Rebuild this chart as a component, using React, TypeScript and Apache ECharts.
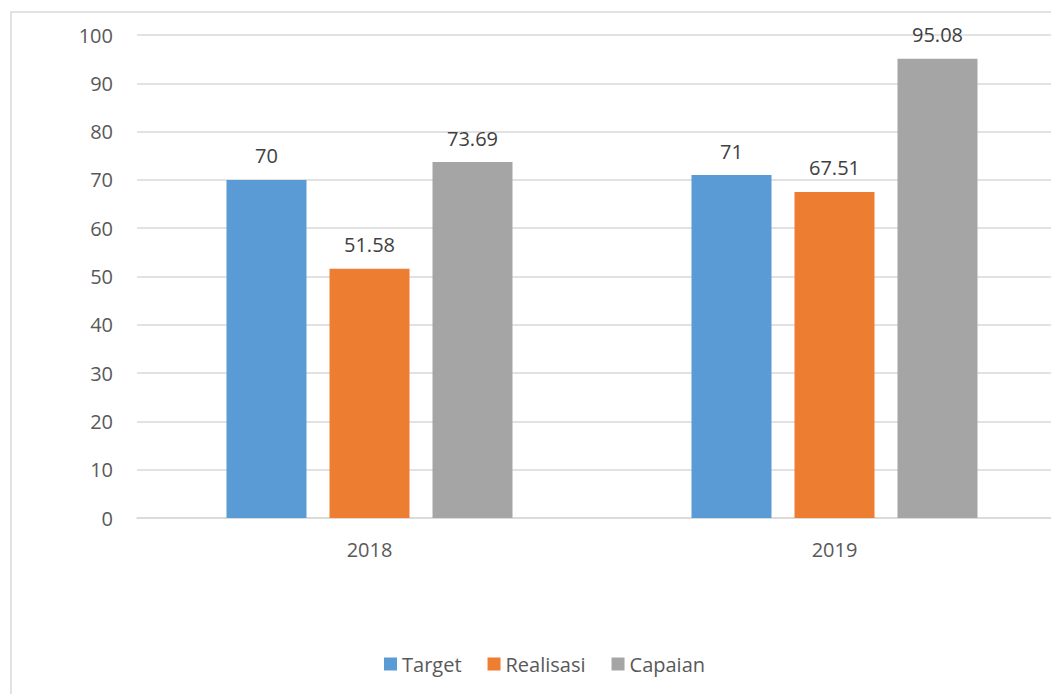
import React, { useEffect, useRef } from "react";
import * as echarts from "echarts";

const categories = ["2018", "2019"];
const targetValues = [70, 71];
const realisasiValues = [51.58, 67.51];
const capaianValues = [73.69, 95.08];
const seriesNames = ["Target", "Realisasi", "Capaian"];
const colors = ["#5B9BD5", "#ED7D31", "#A5A5A5"];

const FONT = "'Open Sans', 'Liberation Sans', Arial, sans-serif";

export default function App() {
  const ref = useRef<HTMLDivElement>(null);
  useEffect(() => {
    if (!ref.current) return;
    const chart = echarts.init(ref.current, null, { renderer: "svg" });
    const values = [targetValues, realisasiValues, capaianValues];
    const label = {
      show: true,
      position: "top" as const,
      distance: 14,
      color: "#404040",
      fontSize: 20,
      fontFamily: FONT,
    };
    chart.setOption({
      animation: false,
      backgroundColor: "#ffffff",
      graphic: [
        {
          type: "rect",
          shape: { x: 11, y: 12, width: 1100, height: 720 },
          style: { fill: "none", stroke: "#d9d9d9", lineWidth: 1.5 },
          silent: true,
        },
      ],
      grid: { left: 137, top: 35, width: 930, height: 483, containLabel: false },
      legend: {
        data: seriesNames,
        top: 649,
        left: 379,
        icon: "rect",
        itemWidth: 13,
        itemHeight: 13,
        itemGap: 26,
        textStyle: { color: "#595959", fontSize: 20, fontFamily: FONT, padding: [0, 0, 0, 0] },
      },
      xAxis: {
        type: "category",
        data: categories,
        axisLine: { lineStyle: { color: "#d9d9d9", width: 1.5 } },
        axisTick: { show: false },
        axisLabel: { color: "#595959", fontSize: 20, fontFamily: FONT, margin: 21 },
      },
      yAxis: {
        type: "value",
        min: 0,
        max: 100,
        interval: 10,
        axisLine: { show: false },
        axisTick: { show: false },
        splitLine: { lineStyle: { color: "#d9d9d9", width: 1.5 } },
        axisLabel: { color: "#595959", fontSize: 20, fontFamily: FONT, margin: 24 },
      },
      series: seriesNames.map((name, i) => ({
        name,
        type: "bar",
        data: values[i],
        barWidth: 80,
        barGap: "28.75%",
        itemStyle: { color: colors[i] },
        label,
      })),
    });
    return () => chart.dispose();
  }, []);
  return (
    <div
      style={{
        position: "absolute",
        left: 0,
        top: 0,
        width: 1051,
        height: 694,
        overflow: "hidden",
        background: "#fff",
      }}
    >
      <div ref={ref} style={{ width: 1120, height: 740 }} />
    </div>
  );
}
